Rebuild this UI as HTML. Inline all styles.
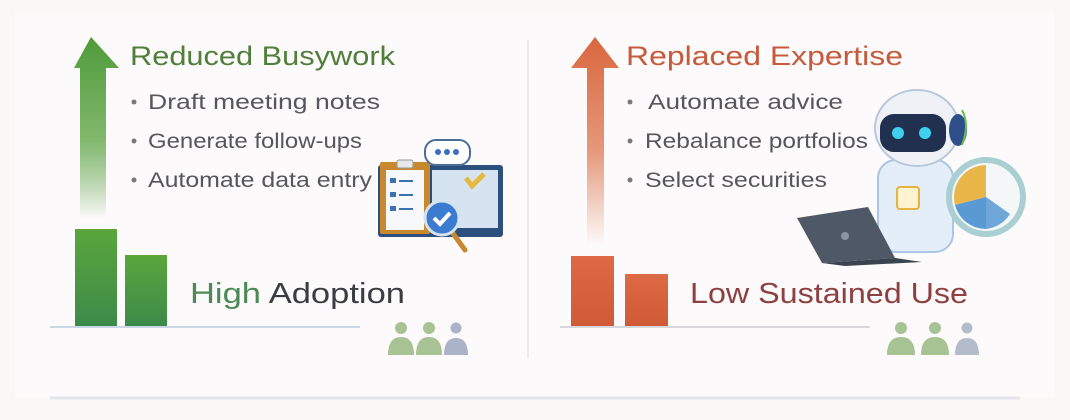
<!DOCTYPE html>
<html><head><meta charset="utf-8"><style>
html,body{margin:0;padding:0;background:#faf7f7;}
svg{display:block;font-family:"Liberation Sans",sans-serif;}
</style></head><body>
<svg width="1070" height="420" viewBox="0 0 1070 420" xmlns="http://www.w3.org/2000/svg">
<defs>
<linearGradient id="ga" x1="0" y1="0" x2="0" y2="1"><stop offset="0" stop-color="#4f9a3a"/><stop offset="0.55" stop-color="#7fb86a"/><stop offset="1" stop-color="#4f9a3a" stop-opacity="0"/></linearGradient>
<linearGradient id="ra" x1="0" y1="0" x2="0" y2="1"><stop offset="0" stop-color="#d9673f"/><stop offset="0.55" stop-color="#e6987a"/><stop offset="1" stop-color="#e6987a" stop-opacity="0"/></linearGradient>
<linearGradient id="gb" x1="0" y1="0" x2="0" y2="1"><stop offset="0" stop-color="#5aa63c"/><stop offset="1" stop-color="#3c8a4a"/></linearGradient>
<linearGradient id="rb" x1="0" y1="0" x2="0" y2="1"><stop offset="0" stop-color="#dd6a44"/><stop offset="1" stop-color="#cf5a36"/></linearGradient>
</defs>
<rect x="0" y="0" width="1070" height="420" fill="#faf7f7"/>
<rect x="15" y="12" width="1040" height="385" fill="#fcfafa"/>
<line x1="50" y1="398" x2="1020" y2="398" stroke="#e4e6ec" stroke-width="3"/>
<line x1="528" y1="40" x2="528" y2="358" stroke="#e6e8ee" stroke-width="1.5"/>

<!-- Left arrow -->
<polygon points="91,37 119,68 106,68 106,218 80,218 80,68 74,68" fill="url(#ga)"/>
<text x="130" y="65" font-size="27" fill="#4f7f3a" textLength="265" lengthAdjust="spacingAndGlyphs">Reduced Busywork</text>
<g font-size="21" fill="#55575c">
<circle cx="134" cy="102" r="2.5" fill="#777"/><text x="148" y="109" textLength="232" lengthAdjust="spacingAndGlyphs">Draft meeting notes</text>
<circle cx="134" cy="141" r="2.5" fill="#777"/><text x="148" y="148" textLength="214" lengthAdjust="spacingAndGlyphs">Generate follow-ups</text>
<circle cx="134" cy="180" r="2.5" fill="#777"/><text x="148" y="187" textLength="224" lengthAdjust="spacingAndGlyphs">Automate data entry</text>
</g>
<rect x="75" y="229" width="42" height="98" fill="url(#gb)"/>
<rect x="125" y="255" width="42" height="72" fill="url(#gb)"/>
<line x1="50" y1="327" x2="360" y2="327" stroke="#c9d6e4" stroke-width="2"/>
<text x="190" y="303" font-size="29" textLength="215" lengthAdjust="spacingAndGlyphs"><tspan fill="#4b8a55">High</tspan><tspan fill="#3a3d44"> Adoption</tspan></text>

<!-- clipboard/laptop icon -->
<rect x="378" y="165" width="125" height="72" rx="3" fill="#2d4f7e"/>
<rect x="432" y="170" width="66" height="58" fill="#d6e4f2"/>
<rect x="380" y="162" width="50" height="72" rx="2" fill="#c7882e"/>
<rect x="386" y="170" width="38" height="60" fill="#f6f8fb"/>
<rect x="397" y="160" width="16" height="8" rx="2" fill="#e8e8e8" stroke="#999"/>
<g fill="#3c6fb3"><rect x="390" y="178" width="6" height="5"/><rect x="390" y="192" width="6" height="5"/><rect x="390" y="206" width="6" height="5"/><rect x="399" y="180" width="14" height="2"/><rect x="399" y="194" width="14" height="2"/><rect x="399" y="208" width="14" height="2"/></g>
<path d="M466 178 l6 8 l12 -12" stroke="#e7b840" stroke-width="5" fill="none"/>
<rect x="425" y="140" width="45" height="25" rx="11" fill="#fff" stroke="#4a6e9a" stroke-width="2"/>
<g fill="#3b6dc0"><circle cx="438" cy="152" r="3"/><circle cx="447" cy="152" r="3"/><circle cx="456" cy="152" r="3"/></g>
<line x1="452" y1="232" x2="465" y2="250" stroke="#c7882e" stroke-width="5" stroke-linecap="round"/>
<circle cx="442" cy="218" r="17" fill="#3b7cd0" stroke="#d5e3f0" stroke-width="3"/>
<path d="M434 218 l6 6 l10 -11" stroke="#fff" stroke-width="4" fill="none"/>

<!-- people left -->
<g fill="#a7c293"><circle cx="401" cy="328" r="6"/><path d="M388 355 q0 -18 13 -18 q13 0 13 18z"/><circle cx="429" cy="328" r="6"/><path d="M416 355 q0 -18 13 -18 q13 0 13 18z"/></g>
<g fill="#aab3c8"><circle cx="456" cy="328" r="5.5"/><path d="M444 355 q0 -17 12 -17 q12 0 12 17z"/></g>

<!-- Right arrow -->
<polygon points="595,37 619,68 604,68 604,245 587,245 587,68 571,68" fill="url(#ra)"/>
<text x="626" y="65" font-size="27" fill="#c65a3c" textLength="277" lengthAdjust="spacingAndGlyphs">Replaced Expertise</text>
<g font-size="21" fill="#55575c">
<circle cx="630" cy="102" r="2.5" fill="#777"/><text x="648" y="109" textLength="195" lengthAdjust="spacingAndGlyphs">Automate advice</text>
<circle cx="630" cy="141" r="2.5" fill="#777"/><text x="645" y="148" textLength="223" lengthAdjust="spacingAndGlyphs">Rebalance portfolios</text>
<circle cx="630" cy="180" r="2.5" fill="#777"/><text x="645" y="187" textLength="182" lengthAdjust="spacingAndGlyphs">Select securities</text>
</g>
<rect x="571" y="256" width="43" height="71" fill="url(#rb)"/>
<rect x="625" y="274" width="43" height="53" fill="url(#rb)"/>
<line x1="560" y1="327" x2="870" y2="327" stroke="#d6d8de" stroke-width="2"/>
<text x="690" y="303" font-size="29" fill="#8e4040" textLength="278" lengthAdjust="spacingAndGlyphs">Low Sustained Use</text>

<!-- robot -->
<rect x="878" y="160" width="75" height="92" rx="18" fill="#e4eef8" stroke="#a9c6e6" stroke-width="2"/>
<rect x="897" y="187" width="22" height="22" rx="3" fill="#fff3d0" stroke="#e4b443" stroke-width="2"/>
<ellipse cx="917" cy="128" rx="42" ry="38" fill="#eef2f7" stroke="#b8c8dc" stroke-width="2"/>
<rect x="880" y="114" width="66" height="38" rx="14" fill="#20304e"/>
<circle cx="898" cy="133" r="6" fill="#3fd0f0"/><circle cx="925" cy="133" r="6" fill="#3fd0f0"/>
<ellipse cx="958" cy="130" rx="9" ry="16" fill="#2e4f8a"/>
<path d="M962 110 q8 15 0 35" stroke="#6cc04a" stroke-width="2" fill="none"/>
<circle cx="986" cy="197" r="37" fill="#f3f7f8" stroke="#a9cfd2" stroke-width="6"/>
<path d="M986 197 L986 165 A32 32 0 0 0 955 205 Z" fill="#e9b64a"/>
<path d="M986 197 L955 205 A32 32 0 0 0 986 229 Z" fill="#5a9ad4"/>
<path d="M986 197 L986 229 A32 32 0 0 0 1010 214 Z" fill="#6fa6d8"/>
<polygon points="797,218 868,207 895,258 822,263" fill="#4e5867"/>
<polygon points="822,263 895,258 922,262 845,266" fill="#3a4350"/>
<circle cx="845" cy="236" r="4" fill="#8a94a3"/>

<!-- people right -->
<g fill="#a7c293"><circle cx="901" cy="328" r="6"/><path d="M887 355 q0 -18 14 -18 q14 0 14 18z"/><circle cx="935" cy="328" r="6"/><path d="M921 355 q0 -18 14 -18 q14 0 14 18z"/></g>
<g fill="#b4bccb"><circle cx="967" cy="328" r="5.5"/><path d="M955 355 q0 -17 12 -17 q12 0 12 17z"/></g>
</svg>
</body></html>
